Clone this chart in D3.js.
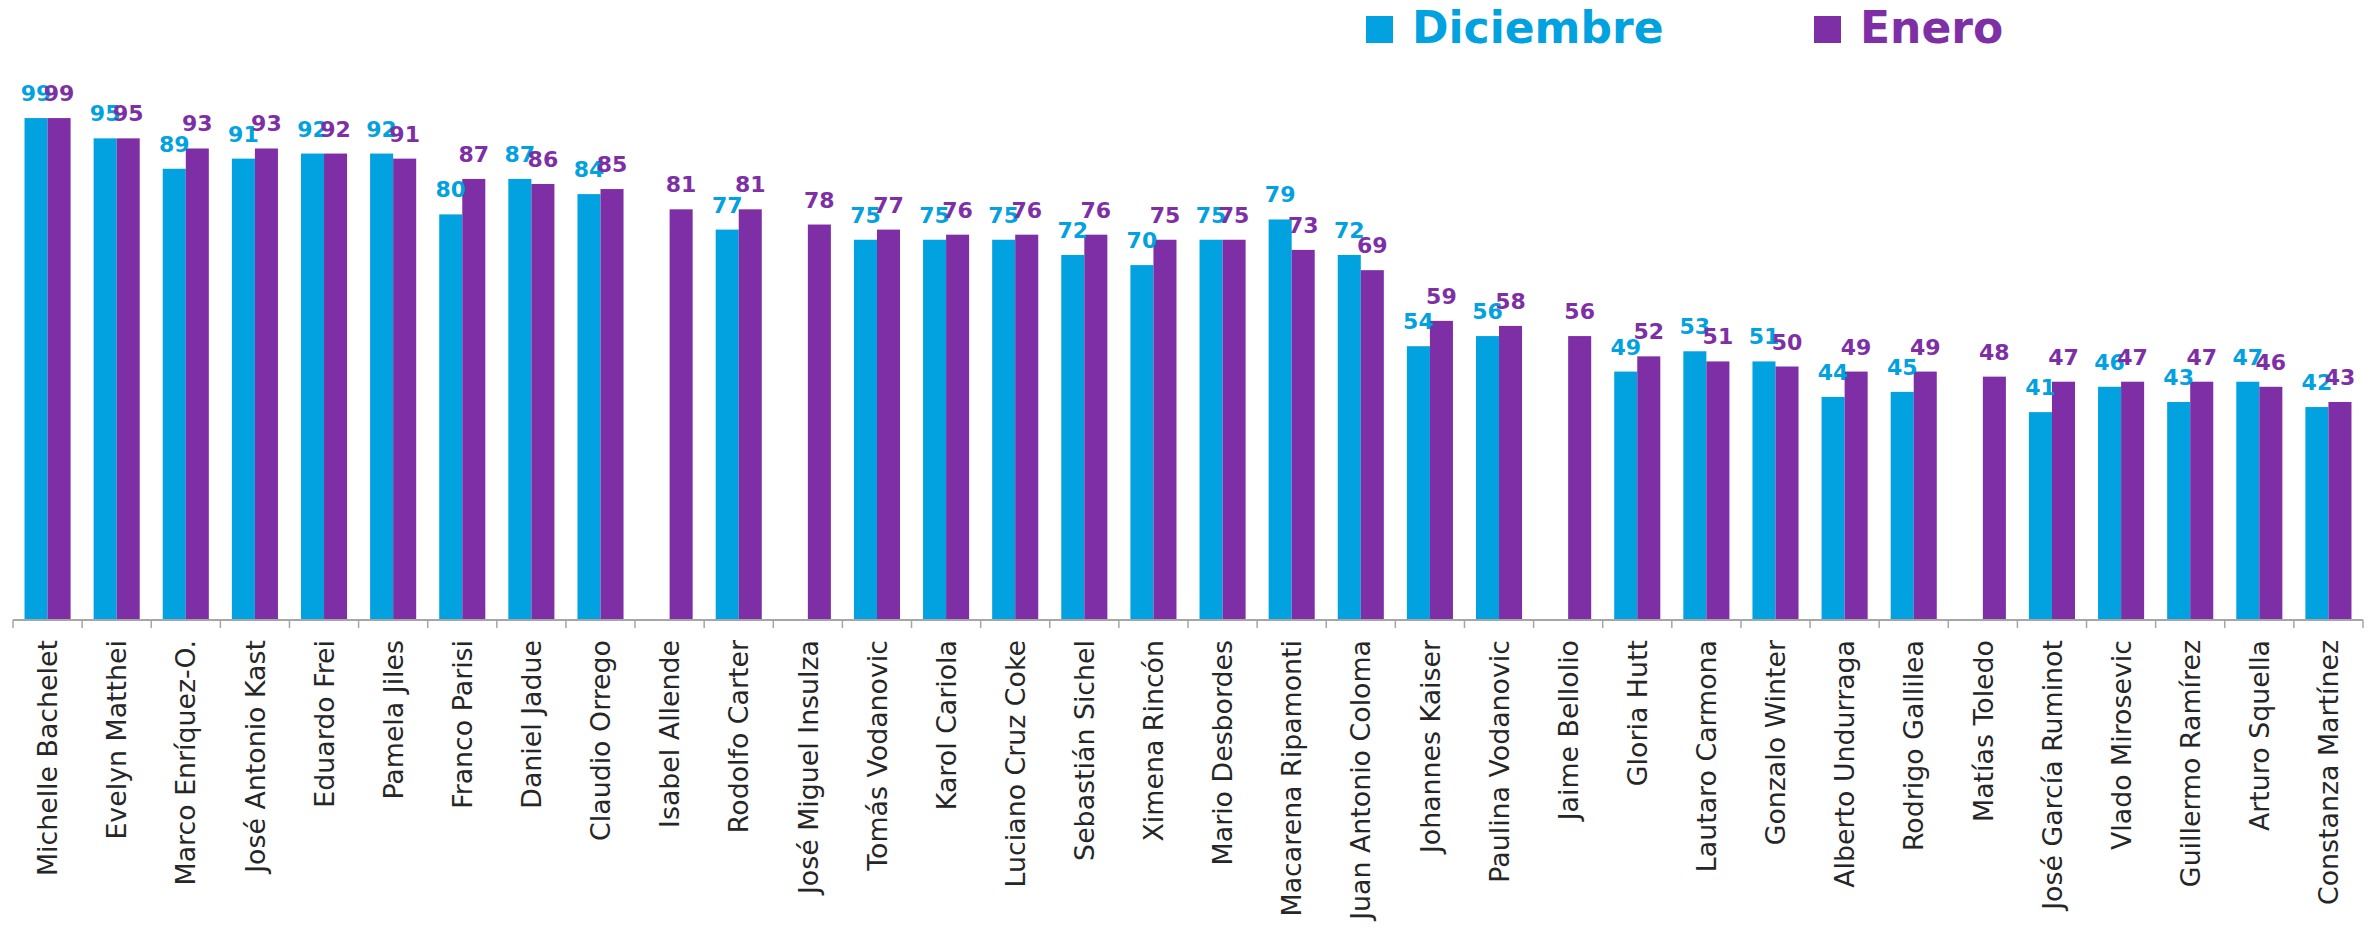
<!DOCTYPE html>
<html>
<head>
<meta charset="utf-8">
<script src="https://cdn.jsdelivr.net/npm/d3@7"></script>
<style>
  html, body { margin: 0; padding: 0; background: #ffffff; }
  svg { display: block; }
</style>
</head>
<body>
<svg id="chart" width="2379" height="930"></svg>
<script>
const categories = [
  "Michelle Bachelet", "Evelyn Matthei", "Marco Enríquez-O.", "José Antonio Kast",
  "Eduardo Frei", "Pamela Jiles", "Franco Parisi", "Daniel Jadue", "Claudio Orrego",
  "Isabel Allende", "Rodolfo Carter", "José Miguel Insulza", "Tomás Vodanovic",
  "Karol Cariola", "Luciano Cruz Coke", "Sebastián Sichel", "Ximena Rincón",
  "Mario Desbordes", "Macarena Ripamonti", "Juan Antonio Coloma", "Johannes Kaiser",
  "Paulina Vodanovic", "Jaime Bellolio", "Gloria Hutt", "Lautaro Carmona",
  "Gonzalo Winter", "Alberto Undurraga", "Rodrigo Gallilea", "Matías Toledo",
  "José García Ruminot", "Vlado Mirosevic", "Guillermo Ramírez", "Arturo Squella",
  "Constanza Martínez"
];
const diciembre = [99, 95, 89, 91, 92, 92, 80, 87, 84, null, 77, null, 75, 75, 75, 72, 70, 75, 79, 72, 54, 56, null, 49, 53, 51, 44, 45, null, 41, 46, 43, 47, 42];
const enero     = [99, 95, 93, 93, 92, 91, 87, 86, 85, 81, 81, 78, 77, 76, 76, 76, 75, 75, 73, 69, 59, 58, 56, 52, 51, 50, 49, 49, 48, 47, 47, 47, 46, 43];
const seriesNames = ["Diciembre", "Enero"];
const seriesColors = ["#02A1DF", "#7E2FA6"];

const svg = d3.select("#chart");
const baseY = 620, topY = 113;
const x = d3.scaleBand().domain(categories).range([13, 2363]).padding(0);
const xs = d3.scaleBand().domain(seriesNames).range([0, x.bandwidth()]).paddingInner(0).paddingOuter(0.5);
const y = d3.scaleLinear().domain([0, 100]).range([baseY, topY]);
const color = d3.scaleOrdinal().domain(seriesNames).range(seriesColors);

const rows = [];
categories.forEach((c, i) => {
  rows.push({cat: c, s: "Diciembre", v: diciembre[i]});
  rows.push({cat: c, s: "Enero", v: enero[i]});
});
const valid = rows.filter(r => r.v !== null && r.v !== undefined);

// bars
svg.append("g").selectAll("rect").data(valid).join("rect")
  .attr("x", d => x(d.cat) + xs(d.s))
  .attr("y", d => y(d.v))
  .attr("width", xs.bandwidth())
  .attr("height", d => baseY - y(d.v))
  .attr("fill", d => color(d.s));

// axis line + boundary ticks
const axisG = svg.append("g").attr("transform", `translate(0,${baseY})`);
const bounds = categories.map(c => x(c)).concat([x.range()[1]]);
axisG.append("line")
  .attr("x1", x.range()[0]).attr("x2", x.range()[1])
  .attr("y1", 0).attr("y2", 0)
  .attr("stroke", "#A6A6A6").attr("stroke-width", 2);
axisG.selectAll("line.tick").data(bounds).join("line")
  .attr("class", "tick")
  .attr("x1", d => d).attr("x2", d => d)
  .attr("y1", 0).attr("y2", 8)
  .attr("stroke", "#A6A6A6").attr("stroke-width", 1.5);

// category labels
svg.append("g").selectAll("text").data(categories).join("text")
  .attr("transform", d => `translate(${x(d) + x.bandwidth() / 2},640) rotate(-90)`)
  .attr("text-anchor", "end")
  .attr("dy", "0.36em")
  .attr("font-family", "DejaVu Sans, sans-serif")
  .attr("font-size", 26.8)
  .attr("fill", "#262626")
  .text(d => d);

// value labels
svg.append("g").selectAll("text").data(valid).join("text")
  .attr("x", d => x(d.cat) + xs(d.s) + xs.bandwidth() / 2)
  .attr("y", d => y(d.v) - 17)
  .attr("text-anchor", "middle")
  .attr("font-family", "DejaVu Sans, sans-serif")
  .attr("font-weight", "bold")
  .attr("font-size", 22)
  .attr("fill", d => color(d.s))
  .text(d => d.v);

// legend
const legendX = [1366, 1814];
const lg = svg.append("g").selectAll("g").data(seriesNames).join("g")
  .attr("transform", (d, i) => `translate(${legendX[i]},0)`);
lg.append("rect").attr("x", 0).attr("y", 16).attr("width", 27).attr("height", 27)
  .attr("fill", d => color(d));
lg.append("text").attr("x", 46).attr("y", 43)
  .attr("font-family", "DejaVu Sans, sans-serif")
  .attr("font-weight", "bold")
  .attr("font-size", 44)
  .attr("fill", d => color(d))
  .text(d => d);
</script>
</body>
</html>
